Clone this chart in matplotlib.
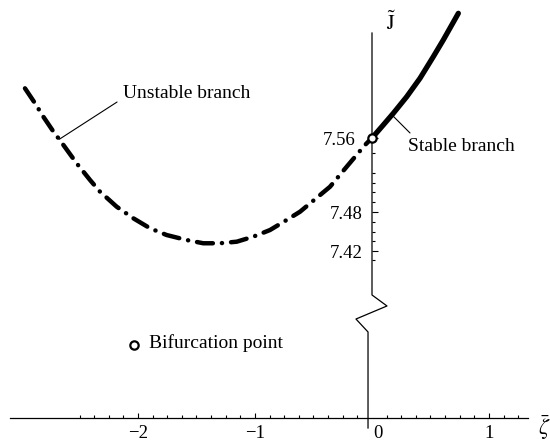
import numpy as np
import matplotlib
matplotlib.use("Agg")
import matplotlib.pyplot as plt

# ---------------- data ----------------
unstable_zeta = [-2.966, -2.880, -2.809, -2.709, -2.673, -2.524, -2.410, -2.325, -2.182, -2.040,
                 -1.897, -1.755, -1.584, -1.442, -1.299, -1.156, -1.015, -0.872, -0.729, -0.615,
                 -0.359, -0.216, -0.060, 0.0]
unstable_J = [7.6137, 7.5975, 7.5830, 7.5643, 7.5586, 7.5326, 7.5146, 7.5020, 7.4857, 7.4732,
              7.4624, 7.4551, 7.4497, 7.4462, 7.4462, 7.4479, 7.4533, 7.4605, 7.4714, 7.4803,
              7.5073, 7.5290, 7.5524, 7.56]
stable_zeta = [0.0, 0.0966, 0.182, 0.2966, 0.410, 0.524, 0.609, 0.738]
stable_J = [7.56, 7.5741, 7.5867, 7.6046, 7.6245, 7.6479, 7.6659, 7.6948]
bif_zeta, bif_J = 0.0, 7.56

xtick_values = [-2, -1, 0, 1]
xtick_labels = ["\u22122", "\u22121", "0", "1"]
ytick_labels = ["7.56", "7.48", "7.42"]
ytick_pos = [7.56, 7.48, 7.438]
ytick_minor = [7.5438, 7.5222, 7.5114, 7.5016, 7.4908, 7.4692, 7.4584, 7.4486, 7.4281]

plt.rcParams['font.family'] = ['Liberation Serif', 'DejaVu Serif']
plt.rcParams['mathtext.fontset'] = 'stix'
plt.rcParams['lines.scale_dashes'] = False

fig = plt.figure(figsize=(5.5, 4.44), dpi=100)
ax = fig.add_axes([0, 0, 1, 1])
ax.set_xlim(-3.1795, 1.5214)
ax.set_ylim(7.22919, 7.70919)
ax.axis('off')

k = 'black'
# x axis
x_axis_J = 7.2573
ax.plot([-3.09, 1.33], [x_axis_J, x_axis_J], color=k, lw=0.9)
minor_x = [v for v in np.arange(-2.5, 1.26, 0.125) if abs(v - round(v)) > 1e-6]
ax.vlines(minor_x, x_axis_J, x_axis_J + 0.0033, color=k, lw=0.8)
ax.vlines([-2, -1, 1], x_axis_J, x_axis_J + 0.0055, color=k, lw=0.8)
label_off = {0: 0.051}
for v, s in zip(xtick_values, xtick_labels):
    ax.text(v + label_off.get(v, 0.0), 7.2405, s, ha='center', va='center', fontsize=13.5)

# y axis with break
ax.plot([0, 0, 0.128, -0.137, -0.034, -0.034],
        [7.6735, 7.3903, 7.3784, 7.3643, 7.3503, 7.2465], color=k, lw=0.9)
ax.hlines(ytick_minor, 0, 0.026, color=k, lw=0.8)
ax.hlines(ytick_pos, 0, 0.052, color=k, lw=0.8)
label_x = {"7.56": -0.145}
for p, s in zip(ytick_pos, ytick_labels):
    ax.text(label_x.get(s, -0.077), p - 0.003, s, ha='right', va='center', fontsize=13.5)

# axis labels
ax.text(0.165, 7.6835, r'$\tilde{\mathrm{J}}$', ha='center', va='center', fontsize=15)
ax.text(1.42, 7.2465, r'$\bar{\zeta}$', ha='left', va='center', fontsize=16)

# branches
ax.plot(unstable_zeta, unstable_J, color=k, lw=3.2,
        dashes=(11.5, 6.5, 0.1, 6.5), dash_capstyle='round', solid_joinstyle='round')
ax.plot(stable_zeta, stable_J, color=k, lw=3.8, solid_capstyle='round', solid_joinstyle='round')
ax.plot([bif_zeta], [bif_J], 'o', ms=6, mfc='white', mec=k, mew=1.6, zorder=5)

# annotations
ax.annotate('', xy=(unstable_zeta[4], unstable_J[4]), xytext=(-2.179, 7.5989),
            arrowprops=dict(arrowstyle='-', color=k, lw=0.8, shrinkA=0, shrinkB=0))
ax.text(-2.128, 7.6086, 'Unstable branch', ha='left', va='center', fontsize=14)
ax.annotate('', xy=(0.171, 7.5849), xytext=(0.325, 7.5654),
            arrowprops=dict(arrowstyle='-', color=k, lw=0.8, shrinkA=0, shrinkB=0))
ax.text(0.308, 7.5503, 'Stable branch', ha='left', va='center', fontsize=14)

# legend-like entry
ax.plot([-2.034], [7.3362], 'o', ms=6, mfc='white', mec=k, mew=1.6)
ax.text(-1.906, 7.3383, 'Bifurcation point', ha='left', va='center', fontsize=14)

fig.savefig('out.png', dpi=100)
